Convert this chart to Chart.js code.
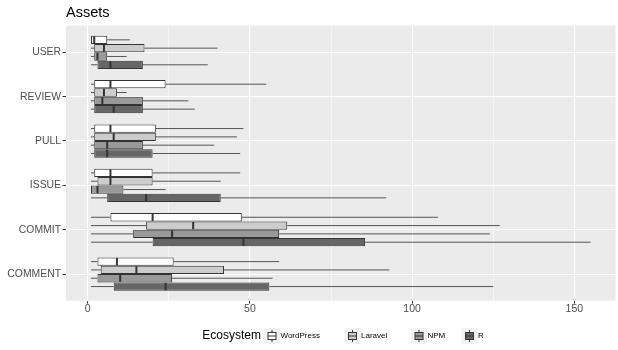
<!DOCTYPE html>
<html>
<head>
<meta charset="utf-8">
<script src="https://cdn.jsdelivr.net/npm/chart.js@4.4.1/dist/chart.umd.min.js"></script>
<style>
  html, body { margin: 0; padding: 0; background: #fff; }
</style>
</head>
<body>
<canvas id="assetsChart" width="618" height="350"></canvas>
<script>
// categories top to bottom, ecosystems in dodge order
const categories = ['USER', 'REVIEW', 'PULL', 'ISSUE', 'COMMIT', 'COMMENT'];
const ecosystems = ['WordPress', 'Laravel', 'NPM', 'R'];
const fills = ['#FFFFFF', '#CCCCCC', '#999999', '#666666'];
const xTicks = [0, 50, 100, 150];

// box stats, one row per ecosystem (WordPress, Laravel, NPM, R)
const lowerWhisker = [
    [1, 1, 1, 1, 1, 1],
    [1, 1, 1, 1, 1, 1],
    [1, 1, 1, 1, 1, 1],
    [1, 1, 1, 1, 1, 1]
];
const q1 = [
    [1, 2, 2, 2, 7, 3],
    [2, 2, 2, 3, 18, 4],
    [2, 2, 2, 1, 14, 3],
    [3, 2, 2, 6, 20, 8]
];
const median = [
    [2, 7, 7, 7, 20, 9],
    [5, 5, 8, 7, 32.5, 15],
    [3, 4.5, 6, 3, 26, 10],
    [7, 8, 6, 18, 48, 24]
];
const q3 = [
    [6, 24, 21, 20, 47.5, 26.5],
    [17.5, 9, 21, 20, 61.5, 42],
    [6, 17, 17, 11, 59, 26],
    [17, 17, 20, 41, 85.5, 56]
];
const upperWhisker = [
    [13, 55, 48, 47, 108, 59],
    [40, 12, 46, 41, 127, 93],
    [12, 31, 39, 24, 124, 57],
    [37, 33, 47, 92, 155, 125]
];

const datasets = ecosystems.map((name, k) => ({
    label: name,
    data: categories.map((c, j) => ({ x: [q1[k][j], q3[k][j]], y: j + 1 })),
    backgroundColor: fills[k],
    borderColor: '#333333',
    borderWidth: 1,
    borderSkipped: false,
    categoryPercentage: 0.75,
    barPercentage: 1
}));

const boxParts = {
    id: 'boxParts',
    beforeDraw(chart) {
        const { ctx, chartArea: a } = chart;
        ctx.save();
        ctx.fillStyle = '#EBEBEB';
        ctx.fillRect(a.left, a.top, a.right - a.left, a.bottom - a.top);
        ctx.restore();
    },
    beforeDatasetsDraw(chart) {
        const ctx = chart.ctx;
        const xs = chart.scales.x;
        ctx.save();
        ctx.strokeStyle = '#555555';
        ctx.lineWidth = 1;
        ecosystems.forEach((name, k) => {
            chart.getDatasetMeta(k).data.forEach((el, j) => {
                const y = el.y;
                ctx.beginPath();
                ctx.moveTo(xs.getPixelForValue(lowerWhisker[k][j]), y);
                ctx.lineTo(xs.getPixelForValue(q1[k][j]), y);
                ctx.moveTo(xs.getPixelForValue(q3[k][j]), y);
                ctx.lineTo(xs.getPixelForValue(upperWhisker[k][j]), y);
                ctx.stroke();
            });
        });
        ctx.restore();
    },
    afterDatasetsDraw(chart) {
        const ctx = chart.ctx;
        const xs = chart.scales.x;
        ctx.save();
        ctx.strokeStyle = '#333333';
        ctx.lineWidth = 2;
        ecosystems.forEach((name, k) => {
            chart.getDatasetMeta(k).data.forEach((el, j) => {
                const x = xs.getPixelForValue(median[k][j]);
                const h = el.height / 2;
                ctx.beginPath();
                ctx.moveTo(x, el.y - h + 0.5);
                ctx.lineTo(x, el.y + h - 0.5);
                ctx.stroke();
            });
        });
        ctx.restore();
    },
    afterDraw(chart) {
        // ggplot style legend at the bottom
        const ctx = chart.ctx;
        const cy = 336;
        const keyX = [272, 352.5, 419, 469.5];
        ctx.save();
        ctx.fillStyle = '#000000';
        ctx.textBaseline = 'middle';
        ctx.textAlign = 'right';
        ctx.font = '12px "Liberation Sans", Arial, sans-serif';
        ctx.fillText('Ecosystem', 261, cy);
        ctx.textAlign = 'left';
        ctx.font = '8px "Liberation Sans", Arial, sans-serif';
        ecosystems.forEach((name, k) => {
            const cx = keyX[k];
            ctx.fillStyle = '#F2F2F2';
            ctx.fillRect(cx - 8, cy - 8, 16, 16);
            ctx.strokeStyle = '#333333';
            ctx.lineWidth = 1;
            ctx.beginPath();
            ctx.moveTo(cx, cy - 6);
            ctx.lineTo(cx, cy - 3.5);
            ctx.moveTo(cx, cy + 3.5);
            ctx.lineTo(cx, cy + 6);
            ctx.stroke();
            ctx.fillStyle = fills[k];
            ctx.fillRect(cx - 4, cy - 3.5, 8, 7);
            ctx.strokeRect(cx - 4, cy - 3.5, 8, 7);
            ctx.beginPath();
            ctx.moveTo(cx - 4, cy);
            ctx.lineTo(cx + 4, cy);
            ctx.stroke();
            ctx.fillStyle = '#000000';
            ctx.fillText(name, cx + 8.5, cy);
        });
        ctx.restore();
    }
};

Chart.defaults.font.family = '"Liberation Sans", Arial, Helvetica, sans-serif';

const ctx = document.getElementById('assetsChart').getContext('2d');
const assetsChart = new Chart(ctx, {
    type: 'bar',
    data: { datasets: datasets },
    options: {
        indexAxis: 'y',
        responsive: false,
        animation: false,
        layout: { padding: { left: 0, right: 2.5, top: 0, bottom: 0 } },
        plugins: {
            legend: { display: false },
            tooltip: { enabled: false },
            title: {
                display: true,
                text: 'Assets',
                align: 'start',
                fullSize: false,
                color: '#000000',
                font: { size: 14.5, weight: 'normal' },
                padding: { top: 4, bottom: 4.3 }
            }
        },
        scales: {
            x: {
                type: 'linear',
                min: -6.7,
                max: 162.7,
                border: { display: false },
                grid: {
                    color: '#FFFFFF',
                    lineWidth: c => (c.tick && xTicks.includes(c.tick.value)) ? 1.1 : 0.55,
                    tickColor: c => (c.tick && xTicks.includes(c.tick.value)) ? '#333333' : 'rgba(0,0,0,0)',
                    tickWidth: 1,
                    tickLength: 3
                },
                ticks: {
                    stepSize: 25,
                    includeBounds: false,
                    maxRotation: 0,
                    padding: -1,
                    color: '#4D4D4D',
                    font: { size: 10.5 },
                    callback: v => xTicks.includes(v) ? String(v) : ''
                },
                afterFit(scale) { scale.height = 49.3; }
            },
            y: {
                type: 'linear',
                reverse: true,
                offset: false,
                min: 0.4,
                max: 6.6,
                border: { display: false },
                grid: {
                    offset: false,
                    color: '#FFFFFF',
                    lineWidth: 1.1,
                    tickColor: '#333333',
                    tickWidth: 1,
                    tickLength: 3.5
                },
                ticks: {
                    stepSize: 1,
                    includeBounds: false,
                    padding: 1.5,
                    color: '#4D4D4D',
                    font: { size: 10.4 },
                    callback: v => categories[v - 1] || ''
                },
                afterFit(scale) { scale.width = 66; }
            }
        }
    },
    plugins: [boxParts]
});
</script>
</body>
</html>
